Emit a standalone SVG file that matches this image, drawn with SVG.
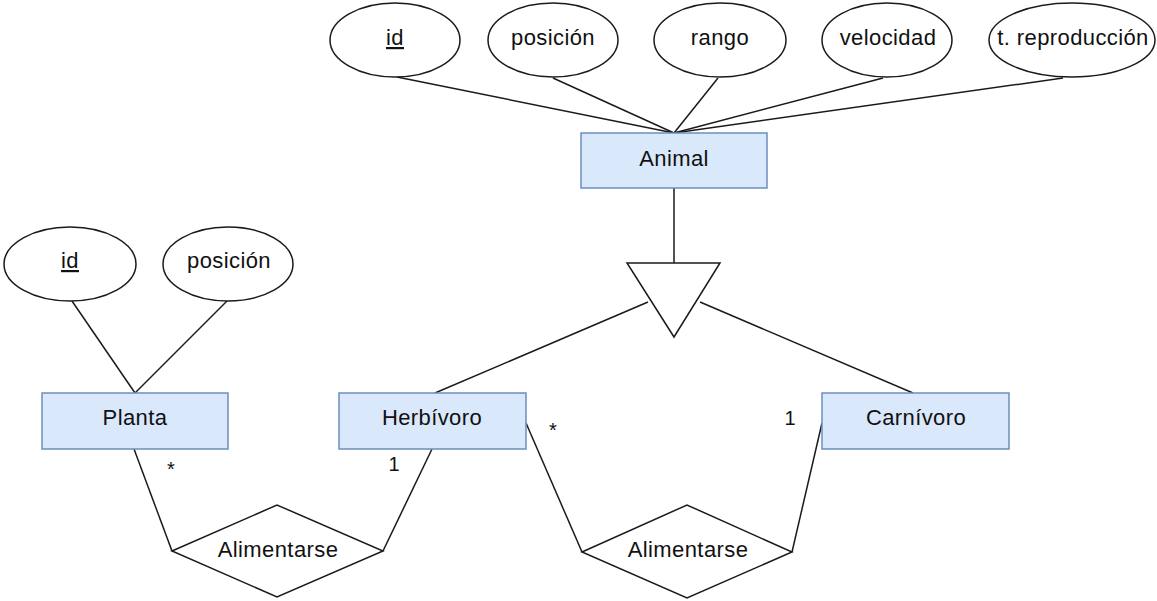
<svg xmlns="http://www.w3.org/2000/svg" width="1157" height="601" viewBox="0 0 1157 601">
  <style>
    .bg { fill: #ffffff; }
    .entity { fill: #dae8fc; stroke: #6c8ebf; stroke-width: 1.5; }
    .attr { fill: #ffffff; stroke: #1a1a1a; stroke-width: 1.5; }
    .rel { fill: #ffffff; stroke: #1a1a1a; stroke-width: 1.5; }
    .edge { fill: none; stroke: #1a1a1a; stroke-width: 1.5; }
    text { font-family: "Liberation Sans", Arial, sans-serif; font-size: 22px; fill: #111111; letter-spacing: 0.4px; }
    .lbl { text-anchor: middle; }
    .key { text-decoration: underline; }
    .card { font-size: 20px; letter-spacing: 0; }
  </style>
  <rect class="bg" x="0" y="0" width="1157" height="601"/>

  <!-- connectors -->
  <g id="connectors">
    <!-- Animal attributes -->
    <line class="edge" x1="397" y1="77" x2="674" y2="133"/>
    <line class="edge" x1="553" y1="78" x2="674" y2="133"/>
    <line class="edge" x1="718" y1="78" x2="674" y2="133"/>
    <line class="edge" x1="883" y1="78" x2="674" y2="133"/>
    <line class="edge" x1="1063" y1="78" x2="674" y2="133"/>
    <!-- generalisation -->
    <line class="edge" x1="674" y1="188" x2="674" y2="263"/>
    <line class="edge" x1="648" y1="302" x2="435" y2="393"/>
    <line class="edge" x1="700" y1="302" x2="913" y2="393"/>
    <!-- Planta attributes -->
    <line class="edge" x1="72" y1="301" x2="135" y2="393"/>
    <line class="edge" x1="227" y1="301" x2="135" y2="393"/>
    <!-- Planta / Herbívoro relationship -->
    <line class="edge" x1="134" y1="449" x2="172" y2="551"/>
    <line class="edge" x1="432" y1="449" x2="383" y2="551"/>
    <!-- Herbívoro / Carnívoro relationship -->
    <line class="edge" x1="526" y1="423" x2="582" y2="552"/>
    <line class="edge" x1="822" y1="423" x2="792" y2="552"/>
  </g>

  <!-- cardinalities -->
  <g id="cardinalities">
    <text class="card lbl" x="171" y="476">*</text>
    <text class="card lbl" x="394" y="471">1</text>
    <text class="card lbl" x="553" y="437">*</text>
    <text class="card lbl" x="790" y="425">1</text>
  </g>

  <!-- Animal attributes -->
  <g id="attr-animal-id">
    <ellipse class="attr" cx="395" cy="40" rx="65" ry="37"/>
    <text class="lbl key" x="395" y="45">id</text>
  </g>
  <g id="attr-animal-posicion">
    <ellipse class="attr" cx="553" cy="40" rx="65" ry="37"/>
    <text class="lbl" x="553" y="45">posición</text>
  </g>
  <g id="attr-animal-rango">
    <ellipse class="attr" cx="720" cy="40" rx="66" ry="37"/>
    <text class="lbl" x="720" y="45">rango</text>
  </g>
  <g id="attr-animal-velocidad">
    <ellipse class="attr" cx="887" cy="40" rx="65" ry="37"/>
    <text class="lbl" x="888" y="45">velocidad</text>
  </g>
  <g id="attr-animal-reproduccion">
    <ellipse class="attr" cx="1072" cy="40" rx="83" ry="37"/>
    <text class="lbl" x="1073" y="45">t. reproducción</text>
  </g>

  <!-- Animal entity -->
  <g id="entity-animal">
    <rect class="entity" x="581" y="133" width="186" height="55"/>
    <text class="lbl" x="674" y="166">Animal</text>
  </g>

  <!-- ISA triangle -->
  <g id="isa">
    <polygon class="rel" points="627,263 720,263 674,337"/>
  </g>

  <!-- Planta attributes -->
  <g id="attr-planta-id">
    <ellipse class="attr" cx="70" cy="264" rx="66" ry="37"/>
    <text class="lbl key" x="70" y="268">id</text>
  </g>
  <g id="attr-planta-posicion">
    <ellipse class="attr" cx="228" cy="264" rx="65" ry="37"/>
    <text class="lbl" x="229" y="268">posición</text>
  </g>

  <!-- entities -->
  <g id="entity-planta">
    <rect class="entity" x="42" y="393" width="186" height="56"/>
    <text class="lbl" x="135" y="425">Planta</text>
  </g>
  <g id="entity-herbivoro">
    <rect class="entity" x="339" y="393" width="187" height="56"/>
    <text class="lbl" x="432" y="425">Herbívoro</text>
  </g>
  <g id="entity-carnivoro">
    <rect class="entity" x="822" y="393" width="187" height="56"/>
    <text class="lbl" x="916" y="425">Carnívoro</text>
  </g>

  <!-- relationships -->
  <g id="rel-alimentarse-planta">
    <polygon class="rel" points="172,551 277,505 383,551 277,597"/>
    <text class="lbl" x="278" y="557">Alimentarse</text>
  </g>
  <g id="rel-alimentarse-animal">
    <polygon class="rel" points="582,552 687,505 792,552 687,598"/>
    <text class="lbl" x="688" y="557">Alimentarse</text>
  </g>
</svg>
